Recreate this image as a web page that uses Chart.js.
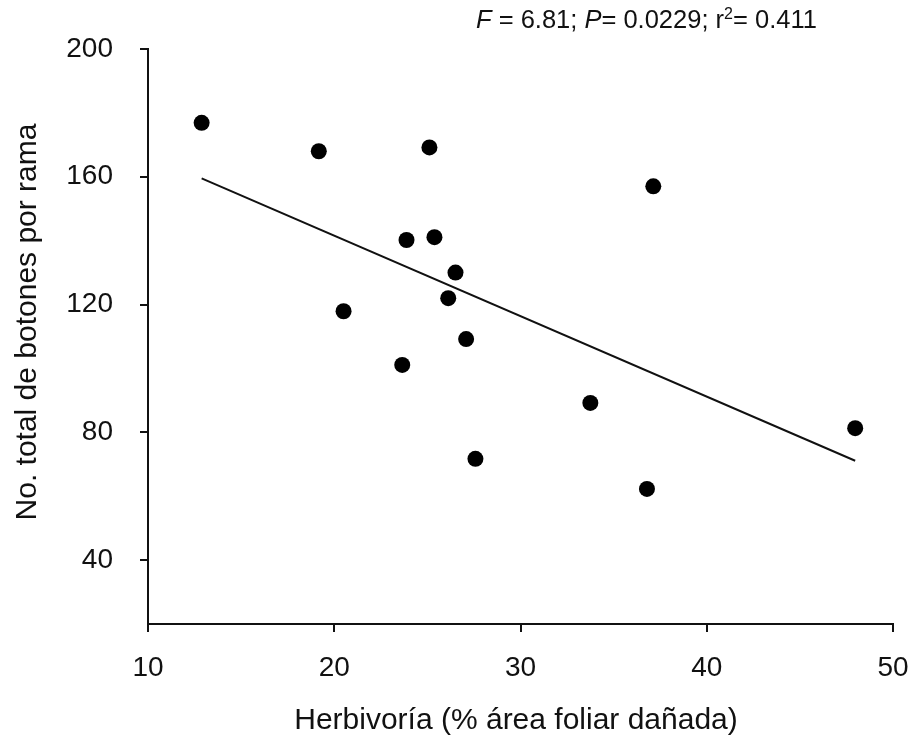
<!DOCTYPE html>
<html>
<head>
<meta charset="utf-8">
<script src="https://cdn.jsdelivr.net/npm/chart.js@4"></script>
<style>
  body { margin: 0; background: #fff; }
  #wrap { width: 917px; height: 745px; }
</style>
</head>
<body>
<div id="wrap"><canvas id="chart" width="917" height="745"></canvas></div>
<script>
// Datos
const herbivoria = [12.88, 19.17, 25.11, 37.13, 23.88, 25.38, 26.51, 26.12, 20.5, 27.08, 23.65, 33.75, 47.97, 27.58, 36.79];
const botones = [176.9, 168.0, 169.2, 157.0, 140.2, 141.1, 130.0, 122.0, 117.9, 109.2, 101.1, 89.2, 81.3, 71.7, 62.3];

// Recta de regresión (extremos)
const lineaX = [12.88, 47.97];
const lineaY = [159.5, 71.1];

const xTicks = [10, 20, 30, 40, 50];
const yTicks = [40, 80, 120, 160, 200];

const fontFam = '"Liberation Sans", Arial, sans-serif';

// Texto de la estadística y títulos de los ejes
const textosPlugin = {
    id: 'textos',
    afterDraw(chart) {
        const c = chart.ctx;
        c.save();
        c.fillStyle = '#111';
        c.textBaseline = 'alphabetic';
        c.textAlign = 'left';
        let x = 476;
        const y = 28;
        const runs = [
            { t: 'F', it: true },
            { t: ' = 6.81; ' },
            { t: 'P', it: true },
            { t: '= 0.0229; r' },
            { t: '2', sup: true },
            { t: '= 0.411' }
        ];
        runs.forEach(r => {
            const size = r.sup ? 16 : 25.5;
            c.font = (r.it ? 'italic ' : '') + size + 'px ' + fontFam;
            c.fillText(r.t, x, r.sup ? y - 9 : y);
            x += c.measureText(r.t).width;
        });

        c.font = '30px ' + fontFam;
        c.textAlign = 'center';
        c.textBaseline = 'middle';
        c.fillText('Herbivoría (% área foliar dañada)', 516, 721);

        c.translate(28, 322);
        c.rotate(-Math.PI / 2);
        c.fillText('No. total de botones por rama', 0, 0);
        c.restore();
    }
};

new Chart(document.getElementById('chart'), {
    type: 'scatter',
    data: {
        datasets: [
            {
                data: herbivoria.map((v, i) => ({ x: v, y: botones[i] })),
                backgroundColor: '#000',
                borderWidth: 0,
                pointRadius: 8,
                pointHoverRadius: 8
            },
            {
                type: 'line',
                data: lineaX.map((v, i) => ({ x: v, y: lineaY[i] })),
                borderColor: '#111',
                borderWidth: 2,
                pointRadius: 0,
                fill: false
            }
        ]
    },
    options: {
        responsive: false,
        animation: false,
        layout: { padding: { top: 49, right: 24, left: 0, bottom: 0 } },
        plugins: { legend: { display: false }, tooltip: { enabled: false } },
        scales: {
            x: {
                type: 'linear',
                min: 10,
                max: 50,
                afterBuildTicks: s => { s.ticks = xTicks.map(v => ({ value: v })); },
                afterFit: s => { s.height = 121; s.paddingLeft = 0; s.paddingRight = 0; },
                grid: { drawOnChartArea: false, drawTicks: true, tickLength: 8, color: '#111', lineWidth: 2 },
                border: { color: '#111', width: 2 },
                ticks: { color: '#111', padding: 19, font: { size: 28, family: fontFam } }
            },
            y: {
                min: 20,
                max: 200,
                afterBuildTicks: s => { s.ticks = yTicks.map(v => ({ value: v })); },
                afterFit: s => { s.width = 148; s.paddingTop = 0; s.paddingBottom = 0; },
                grid: { drawOnChartArea: false, drawTicks: true, tickLength: 8, color: '#111', lineWidth: 2 },
                border: { color: '#111', width: 2 },
                ticks: { color: '#111', padding: 27, font: { size: 28, family: fontFam } }
            }
        }
    },
    plugins: [textosPlugin]
});
</script>
</body>
</html>
